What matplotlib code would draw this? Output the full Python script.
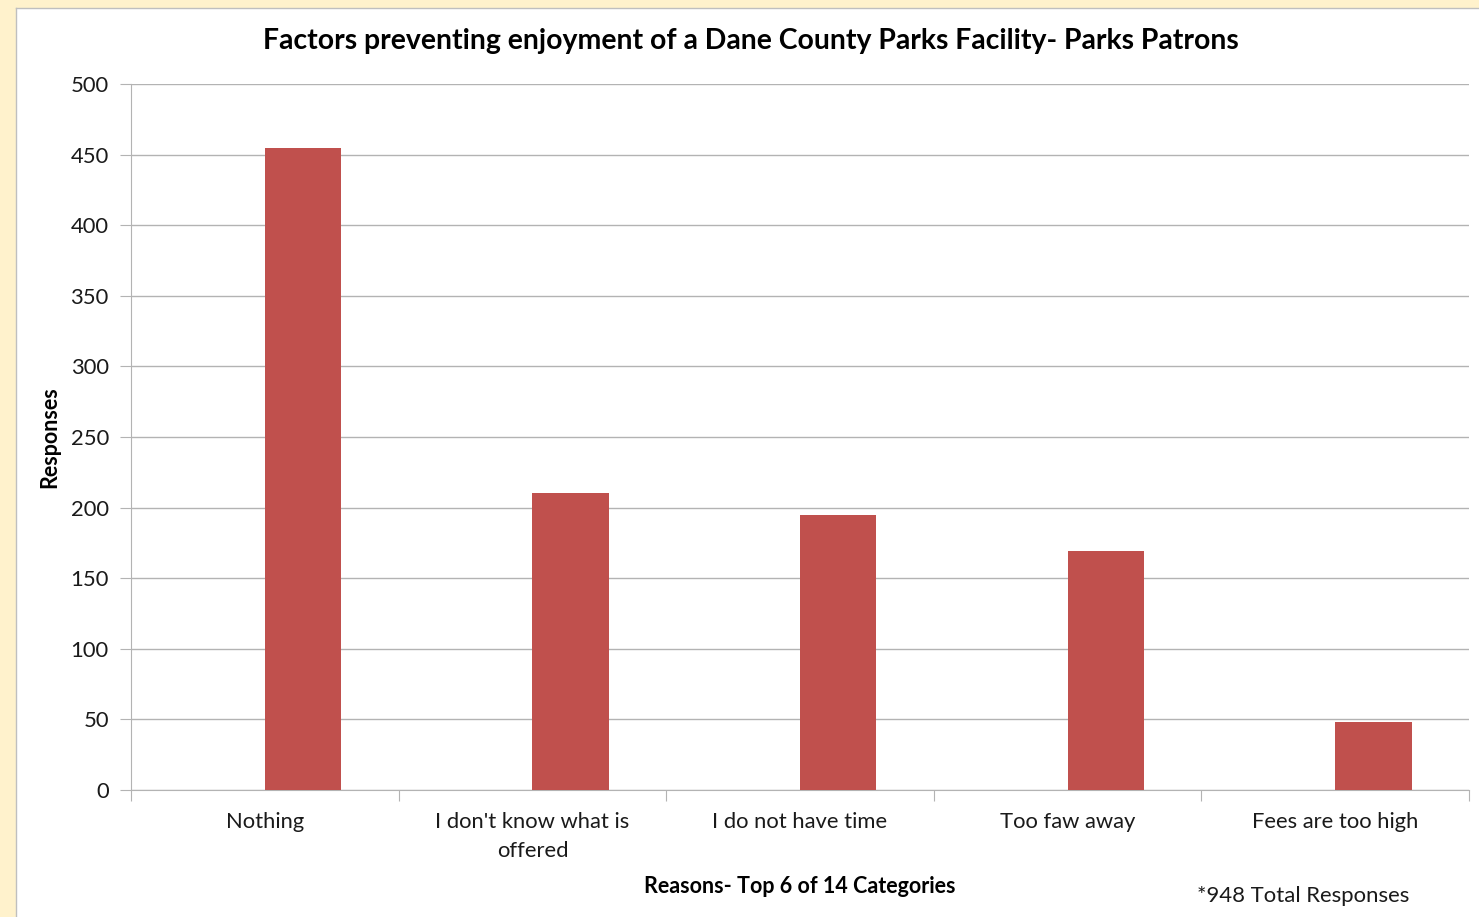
import matplotlib.pyplot as plt
import numpy as np
from matplotlib.patches import Rectangle

plt.rcParams['font.family'] = ['Lato', 'DejaVu Sans']

categories = ["Nothing", "I don't know what is\noffered", "I do not have time",
              "Too faw away", "Fees are too high"]
responses = [455, 210, 195, 169, 48]
yticks = [0, 50, 100, 150, 200, 250, 300, 350, 400, 450, 500]

bar_color = '#C0504D'
grid_color = '#B3B3B3'
text_color = '#1a1a1a'

fig = plt.figure(figsize=(14.79, 9.17), dpi=100)
fig.patch.set_facecolor('white')

# yellow frame on left and top, like the sheet behind the Excel chart
fig.patches.append(Rectangle((0, 0), 16 / 1479, 1, transform=fig.transFigure,
                             facecolor='#FFF2CC', edgecolor='none', zorder=0))
fig.patches.append(Rectangle((0, 1 - 8 / 917), 1, 8 / 917, transform=fig.transFigure,
                             facecolor='#FFF2CC', edgecolor='none', zorder=0))
fig.lines.append(plt.Line2D([16 / 1479, 16 / 1479], [0, 1 - 8 / 917],
                            transform=fig.transFigure, color='#BFBFBF', lw=1))
fig.lines.append(plt.Line2D([16 / 1479, 1], [1 - 8 / 917, 1 - 8 / 917],
                            transform=fig.transFigure, color='#BFBFBF', lw=1))

ax = fig.add_axes([131 / 1479, 1 - 790 / 917, (1469 - 131) / 1479, (790 - 84) / 917])

x = np.arange(len(categories))
# Excel clustered look: bar sits right of slot centre (empty second series)
width = 1 / 3.5
ax.bar(x + width / 2, responses, width=width, color=bar_color, zorder=3)

ax.set_xlim(-0.5, len(categories) - 0.5)
ax.set_ylim(0, 500)
ax.set_yticks(yticks)
ax.yaxis.grid(True, color=grid_color, lw=1)
ax.set_axisbelow(True)

ax.set_xticks(np.arange(len(categories) + 1) - 0.5)
ax.set_xticklabels([])
ax.set_xticks(x, minor=True)
ax.set_xticklabels(categories, minor=True, fontsize=15.8, color=text_color,
                   linespacing=1.55)
ax.tick_params(axis='x', which='minor', length=0, pad=16)
ax.tick_params(axis='x', which='major', length=8, color=grid_color, direction='out')
ax.tick_params(axis='y', length=8, color=grid_color, labelsize=15.8, pad=8,
               labelcolor=text_color)

for s in ['top', 'right']:
    ax.spines[s].set_visible(False)
for s in ['left', 'bottom']:
    ax.spines[s].set_color(grid_color)

ax.set_ylabel('Responses', fontsize=15.5, fontweight='bold', labelpad=7)
ax.set_xlabel('Reasons- Top 6 of 14 Categories', fontsize=15.5, fontweight='bold',
              labelpad=11)

fig.text(751 / 1479, 1 - 41 / 917,
         'Factors preventing enjoyment of a Dane County Parks Facility- Parks Patrons',
         ha='center', va='center', fontsize=20.4, fontweight='bold')
fig.text(1303 / 1479, 1 - 896 / 917, '*948 Total Responses', ha='center', va='center',
         fontsize=15.9, color=text_color)

fig.savefig('out.png', dpi=100)
